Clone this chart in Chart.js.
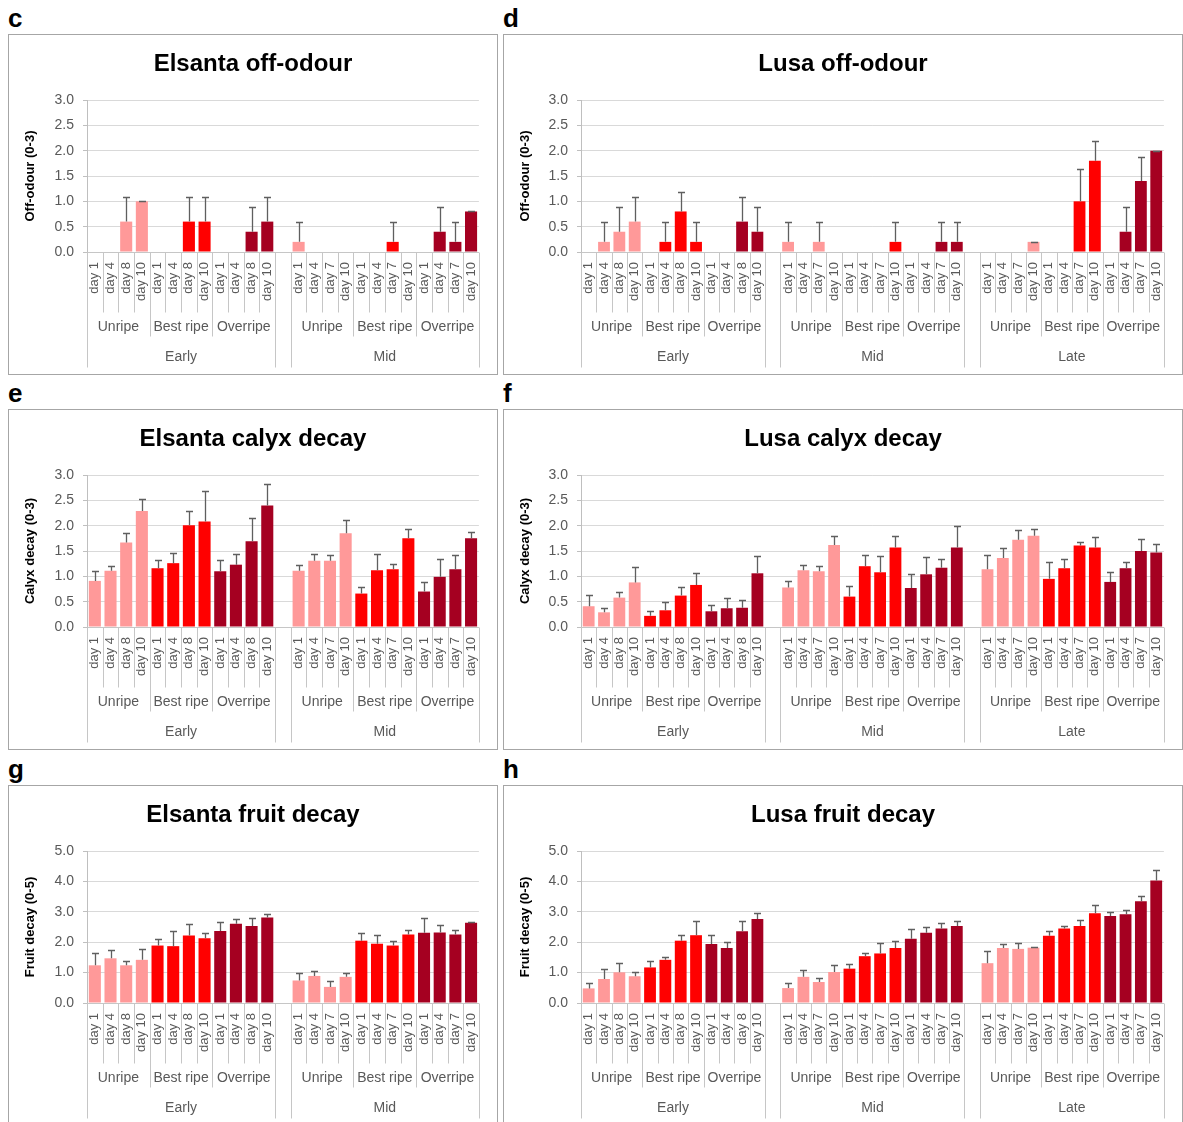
<!DOCTYPE html>
<html><head><meta charset="utf-8">
<script src="https://cdn.jsdelivr.net/npm/chart.js@4.4.1/dist/chart.umd.min.js"></script>
<style>
html,body{margin:0;padding:0;background:#fff;}
body{width:1183px;height:1122px;position:relative;overflow:hidden;}
.panel{position:absolute;border:1px solid #a6a6a6;box-sizing:border-box;background:#fff;}
.panel canvas{position:absolute;left:0;top:0;}
.letter{position:absolute;font:bold 26px 'Liberation Sans',Arial,sans-serif;line-height:26px;color:#000;}
</style></head><body>
<script>
// ---------- DATA ----------
const daysEarly = ['day 1', 'day 4', 'day 8', 'day 10'];
const daysLater = ['day 1', 'day 4', 'day 7', 'day 10'];
const ripeness = ['Unripe', 'Best ripe', 'Overripe'];
const harvestsElsanta = ['Early', 'Mid'];
const harvestsLusa = ['Early', 'Mid', 'Late'];

// order per harvest: Unripe d1..d10, Best ripe d1..d10, Overripe d1..d10
const elsantaOffOdour   = [0,0,0.6,1.0, 0,0,0.6,0.6, 0,0,0.4,0.6,  0.2,0,0,0, 0,0,0.2,0, 0,0.4,0.2,0.8];
const elsantaOffOdourSE = [0,0,0.49,0, 0,0,0.49,0.49, 0,0,0.49,0.49,  0.39,0,0,0, 0,0,0.39,0, 0,0.49,0.39,0];

const lusaOffOdour   = [0,0.2,0.4,0.6, 0,0.2,0.8,0.2, 0,0,0.6,0.4,  0.2,0,0.2,0, 0,0,0,0.2, 0,0,0.2,0.2,  0,0,0,0.2, 0,0,1.0,1.8, 0,0.4,1.4,2.0];
const lusaOffOdourSE = [0,0.39,0.49,0.49, 0,0.39,0.39,0.39, 0,0,0.49,0.49,  0.39,0,0.39,0, 0,0,0,0.39, 0,0,0.39,0.39,  0,0,0,0, 0,0,0.63,0.4, 0,0.49,0.48,0];

const elsantaCalyx   = [0.91,1.11,1.67,2.29, 1.16,1.26,2.01,2.08, 1.10,1.23,1.69,2.40,  1.11,1.31,1.31,1.85, 0.66,1.12,1.14,1.75, 0.70,0.99,1.14,1.75];
const elsantaCalyxSE = [0.20,0.10,0.19,0.24, 0.16,0.20,0.28,0.60, 0.23,0.21,0.46,0.42,  0.12,0.13,0.11,0.26, 0.12,0.33,0.11,0.19, 0.18,0.36,0.28,0.13];

const lusaCalyx   = [0.41,0.29,0.58,0.88, 0.22,0.33,0.62,0.83, 0.31,0.37,0.38,1.06,  0.78,1.12,1.10,1.62, 0.60,1.20,1.08,1.57, 0.77,1.04,1.17,1.57,  1.14,1.36,1.72,1.80, 0.95,1.16,1.61,1.57, 0.89,1.16,1.50,1.47];
const lusaCalyxSE = [0.22,0.08,0.12,0.30, 0.10,0.16,0.16,0.23, 0.12,0.21,0.15,0.34,  0.12,0.10,0.11,0.17, 0.20,0.22,0.33,0.22, 0.27,0.34,0.18,0.43,  0.28,0.20,0.19,0.13, 0.34,0.19,0.07,0.20, 0.19,0.12,0.24,0.16];

const elsantaFruit   = [1.24,1.47,1.24,1.42, 1.89,1.87,2.22,2.13, 2.37,2.61,2.53,2.81,  0.74,0.89,0.53,0.86, 2.05,1.95,1.89,2.25, 2.31,2.32,2.25,2.64];
const elsantaFruitSE = [0.39,0.27,0.15,0.34, 0.23,0.49,0.38,0.17, 0.30,0.15,0.27,0.12,  0.24,0.17,0.21,0.12, 0.26,0.30,0.16,0.16, 0.49,0.23,0.14,0.01];

const lusaFruit   = [0.48,0.79,1.01,0.88, 1.17,1.42,2.05,2.23, 1.94,1.81,2.36,2.76,  0.49,0.86,0.69,1.02, 1.13,1.54,1.63,1.81, 2.11,2.31,2.45,2.53,  1.31,1.81,1.78,1.82, 2.21,2.45,2.53,2.95, 2.86,2.92,3.35,4.03];
const lusaFruitSE = [0.19,0.34,0.32,0.14, 0.20,0.08,0.20,0.48, 0.31,0.20,0.33,0.21,  0.18,0.22,0.14,0.22, 0.15,0.11,0.33,0.24, 0.34,0.18,0.19,0.17,  0.40,0.13,0.18,0.03, 0.16,0.08,0.19,0.28, 0.14,0.13,0.16,0.34];

// ---------- STYLE / LAYOUT ----------
const FONT = "'Liberation Sans', Arial, sans-serif";
const ripenessColors = ['#ff9999', '#ff0000', '#a50021'];

const panels = [
  {letter:'c', left:8,   top:34,  width:490, height:341, title:'Elsanta off-odour',   yTitle:'Off-odour (0-3)',   yMax:3, yStep:0.5, harvests:harvestsElsanta, values:elsantaOffOdour, errors:elsantaOffOdourSE, plotLeft:78, plotRight:471},
  {letter:'d', left:503, top:34,  width:680, height:341, title:'Lusa off-odour',      yTitle:'Off-odour (0-3)',   yMax:3, yStep:0.5, harvests:harvestsLusa,    values:lusaOffOdour,    errors:lusaOffOdourSE,    plotLeft:77, plotRight:665},
  {letter:'e', left:8,   top:409, width:490, height:341, title:'Elsanta calyx decay', yTitle:'Calyx decay (0-3)', yMax:3, yStep:0.5, harvests:harvestsElsanta, values:elsantaCalyx,    errors:elsantaCalyxSE,    plotLeft:78, plotRight:471},
  {letter:'f', left:503, top:409, width:680, height:341, title:'Lusa calyx decay',    yTitle:'Calyx decay (0-3)', yMax:3, yStep:0.5, harvests:harvestsLusa,    values:lusaCalyx,       errors:lusaCalyxSE,       plotLeft:77, plotRight:665},
  {letter:'g', left:8,   top:785, width:490, height:341, title:'Elsanta fruit decay', yTitle:'Fruit decay (0-5)', yMax:5, yStep:1,   harvests:harvestsElsanta, values:elsantaFruit,    errors:elsantaFruitSE,    plotLeft:78, plotRight:471},
  {letter:'h', left:503, top:785, width:680, height:341, title:'Lusa fruit decay',    yTitle:'Fruit decay (0-5)', yMax:5, yStep:1,   harvests:harvestsLusa,    values:lusaFruit,       errors:lusaFruitSE,       plotLeft:77, plotRight:665}
];
const PLOT_TOP = 65, PLOT_BOTTOM = 217, TITLE_Y = 29;

// ---------- HELPERS ----------
function buildLabels(harvests) {
  const labels = [];
  harvests.forEach((h, hi) => {
    if (hi > 0) labels.push('');
    const days = hi === 0 ? daysEarly : daysLater;
    ripeness.forEach(() => days.forEach(d => labels.push(d)));
  });
  return labels;
}
function withGaps(arr, n) {
  const out = [];
  for (let h = 0; h < n; h++) {
    if (h > 0) out.push(null);
    out.push(...arr.slice(h * 12, h * 12 + 12));
  }
  return out;
}

const panelTitlePlugin = {
  id: 'panelTitle',
  afterDraw(chart, args, opts) {
    const {ctx} = chart;
    ctx.save();
    ctx.fillStyle = '#000';
    ctx.font = 'bold 24px ' + FONT;
    ctx.textAlign = 'center';
    ctx.textBaseline = 'middle';
    ctx.fillText(opts.text, chart.width / 2, TITLE_Y);
    ctx.restore();
  }
};

const errorBarPlugin = {
  id: 'errorBars',
  afterDatasetsDraw(chart, args, opts) {
    const {ctx} = chart;
    const x = chart.scales.x, y = chart.scales.y;
    const data = chart.data.datasets[0].data;
    ctx.save();
    ctx.strokeStyle = '#5f5f5f';
    ctx.lineWidth = 1.3;
    data.forEach((v, i) => {
      if (v == null) return;
      const e = opts.errors[i] || 0;
      if (v === 0 && e === 0) return;
      const px = Math.round(x.getPixelForValue(i)) + 0.5;
      const yb = y.getPixelForValue(v);
      const yt = Math.round(y.getPixelForValue(v + e)) + 0.5;
      ctx.beginPath();
      ctx.moveTo(px, yb); ctx.lineTo(px, yt);
      ctx.moveTo(px - 3.5, yt); ctx.lineTo(px + 3.5, yt);
      ctx.stroke();
    });
    ctx.restore();
  }
};

const groupAxisPlugin = {
  id: 'groupAxis',
  afterDraw(chart, args, opts) {
    const {ctx, chartArea} = chart;
    const x = chart.scales.x;
    const slot = x.getPixelForValue(1) - x.getPixelForValue(0);
    const y0 = Math.round(chartArea.bottom) + 0.5;
    const vline = (px, len) => {
      const rx = Math.round(px) + 0.5;
      ctx.beginPath(); ctx.moveTo(rx, y0); ctx.lineTo(rx, y0 + len); ctx.stroke();
    };
    ctx.save();
    ctx.strokeStyle = '#c6c6c6';
    ctx.lineWidth = 1;
    ctx.beginPath(); ctx.moveTo(chartArea.left, y0); ctx.lineTo(chartArea.right, y0); ctx.stroke();
    ctx.fillStyle = '#595959';
    ctx.font = '14px ' + FONT;
    ctx.textAlign = 'center';
    ctx.textBaseline = 'middle';
    opts.harvests.forEach((name, h) => {
      const start = h * 13;
      const L = x.getPixelForValue(start) - slot / 2;
      const R = x.getPixelForValue(start + 11) + slot / 2;
      vline(L, 115); vline(R, 115);
      for (let k = 1; k < 12; k++) {
        vline(x.getPixelForValue(start + k) - slot / 2, k % 4 === 0 ? 84 : 60);
      }
      ripeness.forEach((r, ri) => {
        const cx = (x.getPixelForValue(start + ri * 4) + x.getPixelForValue(start + ri * 4 + 3)) / 2;
        ctx.fillText(r, cx, y0 + 75);
      });
      ctx.fillText(name, (L + R) / 2, y0 + 105);
    });
    ctx.restore();
  }
};

// ---------- BUILD ----------
panels.forEach(p => {
  const letter = document.createElement('div');
  letter.className = 'letter';
  letter.textContent = p.letter;
  letter.style.left = p.left + 'px';
  letter.style.top = (p.top - 29) + 'px';
  document.body.appendChild(letter);

  const box = document.createElement('div');
  box.className = 'panel';
  box.style.left = p.left + 'px';
  box.style.top = p.top + 'px';
  box.style.width = p.width + 'px';
  box.style.height = p.height + 'px';
  const cw = p.width - 2, ch = p.height - 2;
  const canvas = document.createElement('canvas');
  canvas.width = cw; canvas.height = ch;
  canvas.style.width = cw + 'px'; canvas.style.height = ch + 'px';
  box.appendChild(canvas);
  document.body.appendChild(box);

  const n = p.harvests.length;
  const labels = buildLabels(p.harvests);
  const values = withGaps(p.values, n);
  const errors = withGaps(p.errors, n);
  const colors = labels.map((l, i) => {
    const s = i % 13;
    return s === 12 ? 'rgba(0,0,0,0)' : ripenessColors[Math.floor(s / 4)];
  });

  new Chart(canvas, {
    type: 'bar',
    data: {
      labels: labels,
      datasets: [{
        data: values,
        backgroundColor: colors,
        borderWidth: 0,
        barPercentage: 0.77,
        categoryPercentage: 1.0
      }]
    },
    plugins: [errorBarPlugin, groupAxisPlugin, panelTitlePlugin],
    options: {
      responsive: false,
      maintainAspectRatio: false,
      animation: false,
      devicePixelRatio: 1,
      layout: {padding: {left: 0, top: PLOT_TOP, right: cw - p.plotRight, bottom: 0}},
      plugins: {
        legend: {display: false},
        tooltip: {enabled: false},
        title: {display: false},
        panelTitle: {text: p.title},
        errorBars: {errors: errors},
        groupAxis: {harvests: p.harvests}
      },
      scales: {
        x: {
          grid: {display: false, drawTicks: false},
          border: {display: false},
          ticks: {
            autoSkip: false, minRotation: 90, maxRotation: 90,
            font: {size: 13, family: FONT}, color: '#595959', padding: 10
          },
          afterFit(s) { s.height = ch - PLOT_BOTTOM; }
        },
        y: {
          min: 0, max: p.yMax,
          ticks: {
            stepSize: p.yStep,
            callback: v => Number(v).toFixed(1),
            font: {size: 14, family: FONT}, color: '#595959', padding: 9
          },
          grid: {color: '#d9d9d9', tickLength: 4, tickColor: '#bfbfbf'},
          border: {color: '#bfbfbf'},
          title: {
            display: true, text: p.yTitle, color: '#000',
            font: {size: 13, weight: 'bold', family: FONT},
            padding: {top: 14, bottom: 0}
          },
          afterFit(s) { s.width = p.plotLeft; }
        }
      }
    }
  });
});
</script>
</body></html>
